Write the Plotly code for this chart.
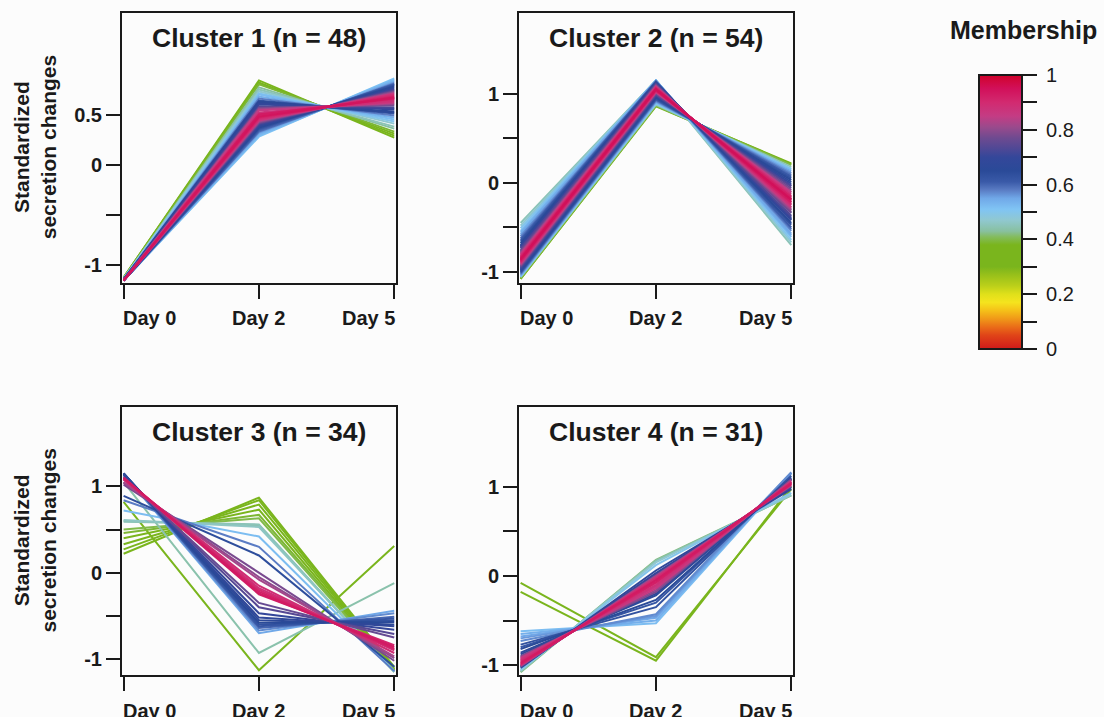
import plotly.graph_objects as go
from plotly.colors import sample_colorscale

# ---------------- data ----------------
DAY_LABELS = ["Day 0", "Day 2", "Day 5"]
DAY_POS = [0, 1, 2]
CLUSTER_TITLES = ["Cluster 1 (n = 48)", "Cluster 2 (n = 54)",
                  "Cluster 3 (n = 34)", "Cluster 4 (n = 31)"]
Y_TITLE = "Standardized<br>secretion changes"
CB_TITLE = "Membership"
CB_TICKVALS = [0, 0.1, 0.2, 0.3, 0.4, 0.5, 0.6, 0.7, 0.8, 0.9, 1.0]
CB_TICKTEXT = ["0", "", "0.2", "", "0.4", "", "0.6", "", "0.8", "", "1"]

# Cluster 1
c1_m = [0.33, 0.35, 0.37, 0.39, 0.43, 0.45, 0.47, 0.50, 0.52, 0.54, 0.58, 0.66,
        0.62, 0.65, 0.68, 0.70, 0.72, 0.76, 0.79, 0.82, 0.85, 0.87, 0.88, 0.89,
        0.93, 0.90, 0.94, 0.91, 0.92, 0.90, 0.88, 0.86, 0.81, 0.78, 0.74, 0.71,
        0.69, 0.67, 0.65, 0.63, 0.61, 0.60, 0.59, 0.56, 0.54, 0.53, 0.52, 0.51]
c1_d0 = [-1.12, -1.12, -1.12, -1.13, -1.13, -1.13, -1.13, -1.13, -1.14, -1.14,
         -1.14, -1.14, -1.14, -1.14, -1.14, -1.14, -1.14, -1.15, -1.15, -1.15,
         -1.15, -1.15, -1.15, -1.15, -1.15, -1.15, -1.15, -1.15, -1.15, -1.15,
         -1.15, -1.15, -1.15, -1.15, -1.15, -1.15, -1.15, -1.15, -1.15, -1.15,
         -1.15, -1.15, -1.15, -1.15, -1.15, -1.15, -1.15, -1.15]
c1_d2 = [0.84, 0.82, 0.81, 0.80, 0.77, 0.75, 0.73, 0.71, 0.70, 0.68, 0.66, 0.63,
         0.64, 0.62, 0.61, 0.60, 0.58, 0.57, 0.56, 0.55, 0.54, 0.52, 0.51, 0.50,
         0.50, 0.49, 0.48, 0.48, 0.47, 0.46, 0.45, 0.44, 0.43, 0.42, 0.41, 0.40,
         0.39, 0.38, 0.37, 0.36, 0.35, 0.34, 0.33, 0.32, 0.31, 0.30, 0.29, 0.28]
c1_d5 = [0.27, 0.29, 0.31, 0.33, 0.36, 0.38, 0.41, 0.43, 0.45, 0.47, 0.49, 0.52,
         0.51, 0.53, 0.55, 0.56, 0.57, 0.59, 0.60, 0.61, 0.62, 0.63, 0.64, 0.65,
         0.66, 0.66, 0.67, 0.67, 0.68, 0.69, 0.70, 0.71, 0.72, 0.73, 0.74, 0.75,
         0.76, 0.77, 0.78, 0.79, 0.80, 0.80, 0.81, 0.82, 0.83, 0.84, 0.85, 0.86]

# Cluster 2
c2_m = [0.45, 0.47, 0.50, 0.52, 0.54, 0.55, 0.57, 0.59, 0.61, 0.63, 0.65, 0.67,
        0.69, 0.70, 0.71, 0.73, 0.75, 0.77, 0.79, 0.81, 0.84, 0.86, 0.88, 0.90,
        0.92, 0.91, 0.93, 0.95, 0.94, 0.93, 0.89, 0.92, 0.90, 0.88, 0.85, 0.82,
        0.79, 0.76, 0.73, 0.71, 0.69, 0.67, 0.65, 0.63, 0.61, 0.59, 0.57, 0.55,
        0.52, 0.49, 0.45, 0.40, 0.37, 0.35]
c2_d0 = [-0.45, -0.48, -0.51, -0.54, -0.56, -0.58, -0.60, -0.62, -0.64, -0.66,
         -0.68, -0.70, -0.71, -0.72, -0.73, -0.74, -0.76, -0.77, -0.78, -0.79,
         -0.80, -0.81, -0.82, -0.83, -0.84, -0.84, -0.85, -0.86, -0.86, -0.87,
         -0.87, -0.88, -0.89, -0.90, -0.91, -0.92, -0.93, -0.94, -0.95, -0.96,
         -0.97, -0.98, -0.99, -1.00, -1.01, -1.02, -1.03, -1.04, -1.05, -1.05,
         -1.06, -1.07, -1.08, -1.08]
c2_d2 = [1.15, 1.15, 1.15, 1.15, 1.15, 1.15, 1.14, 1.14, 1.14, 1.13, 1.13, 1.12,
         1.12, 1.12, 1.11, 1.11, 1.10, 1.10, 1.09, 1.09, 1.08, 1.08, 1.07, 1.07,
         1.06, 1.06, 1.06, 1.05, 1.05, 1.05, 1.05, 1.04, 1.04, 1.03, 1.02, 1.02,
         1.01, 1.00, 0.99, 0.99, 0.98, 0.97, 0.96, 0.95, 0.94, 0.93, 0.92, 0.91,
         0.90, 0.89, 0.88, 0.87, 0.87, 0.86]
c2_d5 = [-0.70, -0.67, -0.64, -0.61, -0.59, -0.57, -0.54, -0.52, -0.50, -0.47,
         -0.45, -0.42, -0.41, -0.40, -0.38, -0.37, -0.34, -0.33, -0.31, -0.30,
         -0.28, -0.27, -0.25, -0.24, -0.22, -0.22, -0.21, -0.19, -0.19, -0.18,
         -0.18, -0.16, -0.15, -0.13, -0.11, -0.10, -0.08, -0.06, -0.04, -0.03,
         -0.01, 0.01, 0.03, 0.05, 0.07, 0.09, 0.11, 0.13, 0.15, 0.16, 0.18, 0.20,
         0.21, 0.22]

# Cluster 3
c3_m = [0.33, 0.35, 0.36, 0.38, 0.39, 0.40, 0.44, 0.45, 0.46, 0.52, 0.58, 0.64,
        0.78, 0.80, 0.82, 0.88, 0.90, 0.92, 0.93, 0.91, 0.89, 0.76, 0.74, 0.70,
        0.68, 0.66, 0.65, 0.63, 0.62, 0.60, 0.57, 0.55, 0.36, 0.44]
c3_d0 = [0.22, 0.27, 0.33, 0.40, 0.46, 0.50, 0.60, 0.59, 0.61, 0.72, 0.84, 0.89,
         1.02, 1.04, 1.05, 1.08, 1.09, 1.10, 1.10, 1.09, 1.08, 1.10, 1.11, 1.13,
         1.14, 1.15, 1.15, 1.15, 1.15, 1.15, 1.14, 1.14, 0.82, 1.05]
c3_d2 = [0.87, 0.84, 0.79, 0.73, 0.67, 0.63, 0.55, 0.56, 0.53, 0.42, 0.30, 0.20,
         0.00, -0.05, -0.08, -0.18, -0.20, -0.22, -0.24, -0.25, -0.15, -0.35,
         -0.40, -0.47, -0.52, -0.55, -0.58, -0.60, -0.62, -0.64, -0.67, -0.70,
         -1.13, -0.93]
c3_d5 = [-1.09, -1.11, -1.12, -1.13, -1.13, -1.13, -1.15, -1.15, -1.14, -1.14,
         -1.14, -1.09, -1.02, -0.99, -0.97, -0.90, -0.89, -0.88, -0.86, -0.84,
         -0.93, -0.75, -0.71, -0.66, -0.62, -0.60, -0.57, -0.55, -0.53, -0.51,
         -0.47, -0.44, 0.31, -0.12]

# Cluster 4
c4_m = [0.36, 0.37, 0.52, 0.54, 0.55, 0.56, 0.57, 0.62, 0.63, 0.65, 0.66, 0.67,
        0.78, 0.80, 0.86, 0.85, 0.87, 0.88, 0.90, 0.92, 0.93, 0.91, 0.89, 0.82,
        0.72, 0.70, 0.68, 0.50, 0.47, 0.44, 0.42]
c4_d0 = [-0.08, -0.18, -0.62, -0.65, -0.68, -0.70, -0.73, -0.80, -0.77, -0.82,
         -0.88, -0.86, -0.90, -0.91, -0.92, -0.93, -0.94, -0.95, -0.96, -0.97,
         -0.98, -0.99, -1.00, -1.01, -1.01, -1.02, -1.03, -1.05, -1.06, -1.07,
         -1.08]
c4_d2 = [-0.91, -0.95, -0.53, -0.50, -0.47, -0.45, -0.43, -0.30, -0.35, -0.27,
         -0.20, -0.22, -0.18, -0.16, -0.14, -0.12, -0.11, -0.10, -0.08, -0.07,
         -0.05, -0.04, -0.02, 0.00, 0.01, 0.03, 0.06, 0.12, 0.15, 0.17, 0.18]
c4_d5 = [0.97, 1.00, 1.15, 1.15, 1.15, 1.15, 1.16, 1.10, 1.12, 1.09, 1.08, 1.08,
         1.08, 1.07, 1.06, 1.05, 1.05, 1.05, 1.04, 1.04, 1.03, 1.03, 1.02, 1.01,
         1.00, 0.99, 0.97, 0.93, 0.91, 0.90, 0.90]

# ---------------- styling ----------------
W, H = 1104, 717
FONT = "Liberation Sans"
INK = "#1a1a1a"
BG = "#fcfcfc"
NBSP = "\u00a0"

MEMBERSHIP_SCALE = [
    [0.00, "#d01a1a"], [0.05, "#e04418"], [0.08, "#ea6c18"], [0.11, "#f09818"],
    [0.14, "#f5c018"], [0.17, "#f5e41e"], [0.20, "#e0e01a"], [0.23, "#bcd01a"],
    [0.27, "#98c01a"], [0.30, "#7ab51d"], [0.38, "#7ab51d"], [0.41, "#84bc60"],
    [0.43, "#88c0a0"], [0.47, "#90c8d0"], [0.51, "#80c4f4"], [0.55, "#70a8e8"],
    [0.58, "#5a7cc4"], [0.61, "#3a5aa8"], [0.65, "#2a4a98"], [0.70, "#34479a"],
    [0.73, "#4e4896"], [0.77, "#6e4a90"], [0.81, "#9a4a8c"], [0.85, "#c43c84"],
    [0.90, "#d22a70"], [0.95, "#d2105a"], [1.00, "#d0022a"],
]

def px_x(p):
    return p / W

def px_y(p):
    return 1 - p / H

panels = [
    dict(m=c1_m, d0=c1_d0, d2=c1_d2, d5=c1_d5, title=CLUSTER_TITLES[0],
         xpx=(122, 396), ypx=(13, 282.5), yrange=[-1.17, 1.51],
         ytv=[-1, -0.5, 0, 0.5], ytt=["-1", "", "0", "0.5"], ytitle=True),
    dict(m=c2_m, d0=c2_d0, d2=c2_d2, d5=c2_d5, title=CLUSTER_TITLES[1],
         xpx=(519, 793), ypx=(13, 282.5), yrange=[-1.12, 1.91],
         ytv=[-1, -0.5, 0, 0.5, 1], ytt=["-1", "", "0", "", "1"], ytitle=False),
    dict(m=c3_m, d0=c3_d0, d2=c3_d2, d5=c3_d5, title=CLUSTER_TITLES[2],
         xpx=(122, 396), ypx=(407, 675), yrange=[-1.185, 1.92],
         ytv=[-1, -0.5, 0, 0.5, 1], ytt=["-1", "", "0", "", "1"], ytitle=True),
    dict(m=c4_m, d0=c4_d0, d2=c4_d2, d5=c4_d5, title=CLUSTER_TITLES[3],
         xpx=(519, 793), ypx=(407, 675), yrange=[-1.11, 1.89],
         ytv=[-1, -0.5, 0, 0.5, 1], ytt=["-1", "", "0", "", "1"], ytitle=False),
]

fig = go.Figure()
layout = dict(
    width=W, height=H,
    margin=dict(l=0, r=0, t=0, b=0, pad=0, autoexpand=False),
    paper_bgcolor=BG, plot_bgcolor=BG, showlegend=False,
    font=dict(family=FONT, color=INK),
)
annotations = []
bold20 = dict(family=FONT, size=20, color=INK, weight="bold")

for i, p in enumerate(panels):
    k = "" if i == 0 else str(i + 1)
    xa, ya = "x" + k, "y" + k
    order = sorted(range(len(p["m"])), key=lambda j: p["m"][j])
    for j in order:
        col = sample_colorscale(MEMBERSHIP_SCALE, [p["m"][j]])[0]
        fig.add_trace(go.Scatter(
            x=DAY_POS, y=[p["d0"][j], p["d2"][j], p["d5"][j]],
            mode="lines", line=dict(color=col, width=2),
            xaxis=xa, yaxis=ya, hoverinfo="skip", showlegend=False))
    axis_common = dict(showline=True, linewidth=2, linecolor=INK, mirror=True,
                       ticks="outside", ticklen=14, tickwidth=2, tickcolor=INK,
                       showgrid=False, zeroline=False, automargin=False,
                       tickfont=bold20)
    layout["xaxis" + k] = dict(
        domain=[px_x(p["xpx"][0]), px_x(p["xpx"][1])], anchor=ya,
        range=[-0.012, 2.013], tickvals=DAY_POS, showticklabels=False,
        **axis_common)
    layout["yaxis" + k] = dict(
        domain=[px_y(p["ypx"][1]), px_y(p["ypx"][0])], anchor=xa,
        range=p["yrange"], tickvals=p["ytv"], ticktext=p["ytt"],
        **axis_common)
    # day labels: first left-aligned, middle centred, last right-aligned
    for pos, lab, anc, sh in zip(DAY_POS, DAY_LABELS,
                                 ["left", "center", "right"], [-3, 0, 3]):
        annotations.append(dict(
            text=lab, xref=xa, yref="paper", x=pos, y=px_y(p["ypx"][1] + 35.5),
            xanchor=anc, yanchor="middle", xshift=sh, showarrow=False,
            font=bold20))
    cx = (p["xpx"][0] + p["xpx"][1]) / 2
    annotations.append(dict(
        text=p["title"], xref="paper", yref="paper", x=px_x(cx),
        y=px_y(p["ypx"][0] + 25), xanchor="center", yanchor="middle",
        showarrow=False, font=dict(family=FONT, size=26.5, color=INK, weight="bold")))
    if p["ytitle"]:
        cy = (p["ypx"][0] + p["ypx"][1]) / 2
        annotations.append(dict(
            text=Y_TITLE, xref="paper", yref="paper", x=px_x(34.5), y=px_y(cy),
            xanchor="center", yanchor="middle", textangle=-90, showarrow=False,
            font=dict(family=FONT, size=21, color=INK, weight="bold")))

# colour bar for membership
fig.add_trace(go.Scatter(
    x=[None], y=[None], mode="markers", xaxis="x", yaxis="y",
    hoverinfo="skip", showlegend=False,
    marker=dict(color=[0.5], cmin=0, cmax=1, colorscale=MEMBERSHIP_SCALE,
                showscale=True,
                colorbar=dict(
                    thickness=43, thicknessmode="pixels", len=274, lenmode="pixels",
                    x=px_x(979), xanchor="left", y=px_y(212), yanchor="middle",
                    xpad=0, ypad=0, outlinewidth=2, outlinecolor=INK,
                    ticks="outside", ticklen=14, tickwidth=2, tickcolor=INK,
                    tickvals=CB_TICKVALS,
                    ticktext=[(NBSP + t) if t else "" for t in CB_TICKTEXT],
                    tickfont=dict(family=FONT, size=20, color=INK)))))
annotations.append(dict(
    text=CB_TITLE, xref="paper", yref="paper", x=px_x(1023), y=px_y(30),
    xanchor="center", yanchor="middle", showarrow=False,
    font=dict(family=FONT, size=25, color=INK, weight="bold")))

layout["annotations"] = annotations
fig.update_layout(**layout)
fig.write_html("out.html", config={"displayModeBar": False},
               post_script="document.body.style.margin='0';"
                           "document.body.style.overflow='hidden';")
